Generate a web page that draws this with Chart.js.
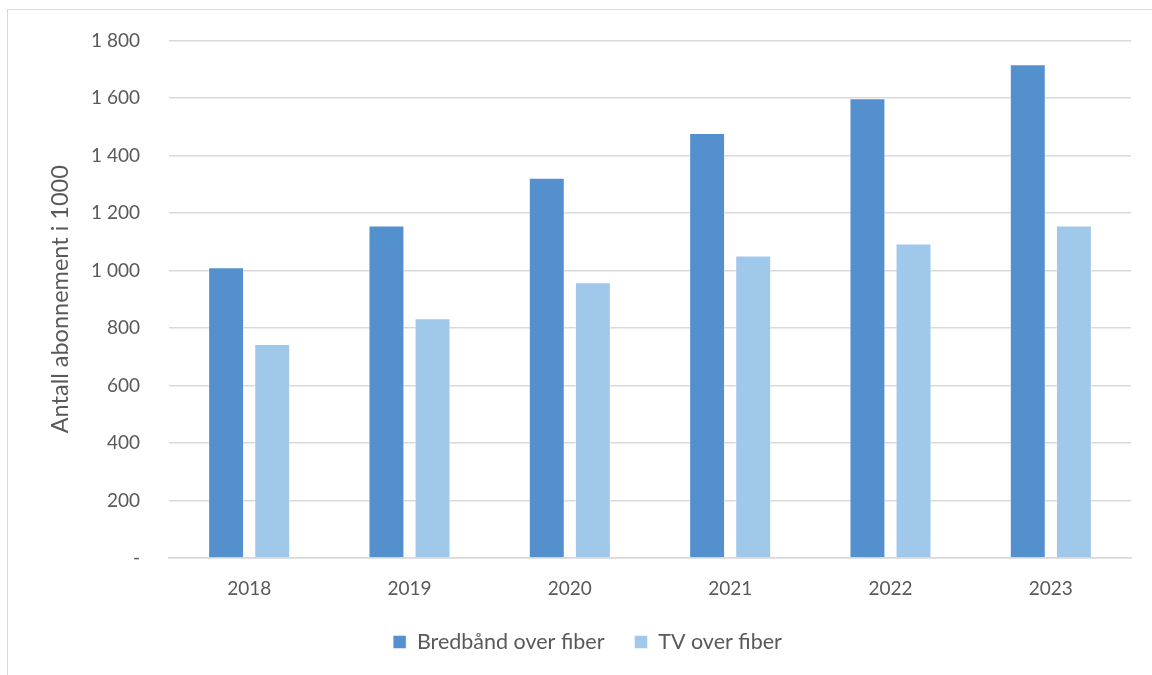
<!DOCTYPE html>
<html>
<head>
<meta charset="utf-8">
<script src="https://cdn.jsdelivr.net/npm/chart.js@4/dist/chart.umd.min.js"></script>
<style>
    html, body { margin: 0; padding: 0; background: #fff; overflow: hidden; }
    .frame { position: absolute; left: 7px; top: 9px; width: 1200px; height: 700px; border: 1px solid #d9d9d9; }
    .chart-wrapper { position: absolute; left: 0; top: 0; width: 1152px; height: 675px; }
</style>
</head>
<body>
<div class="frame"></div>
<div class="chart-wrapper"><canvas id="fiberChart"></canvas></div>
<script>
// Data
const years = ['2018', '2019', '2020', '2021', '2022', '2023'];
const bredbandValues = [1011, 1156, 1322, 1478, 1599, 1717];
const tvValues = [744, 834, 959, 1052, 1094, 1156];
const yTickLabels = ['-', '200', '400', '600', '800', '1 000', '1 200', '1 400', '1 600', '1 800'];

const fontFamily = 'Lato, "Noto Sans", sans-serif';
const textColor = '#595959';
const gridColor = '#d9d9d9';

// Nudge the legend so it's centred under the plot area like the original
const legendShift = {
    id: 'legendShift',
    afterLayout(chart) {
        if (chart.legend) {
            chart.legend.left += 22;
            chart.legend.right += 22;
        }
    }
};

const ctx = document.getElementById('fiberChart').getContext('2d');

new Chart(ctx, {
    type: 'bar',
    data: {
        labels: years,
        datasets: [{
            label: 'Bredbånd over fiber',
            data: bredbandValues,
            backgroundColor: '#5590ce',
            borderColor: 'rgba(255,255,255,0.5)',
            borderWidth: 1,
            barPercentage: 0.78,
            categoryPercentage: 0.575
        }, {
            label: 'TV over fiber',
            data: tvValues,
            backgroundColor: '#9fc8ea',
            borderColor: 'rgba(255,255,255,0.5)',
            borderWidth: 1,
            barPercentage: 0.78,
            categoryPercentage: 0.575
        }]
    },
    plugins: [legendShift],
    options: {
        responsive: true,
        maintainAspectRatio: false,
        animation: false,
        layout: { padding: { top: 38, right: 21, left: 0, bottom: 12.25 } },
        plugins: {
            legend: {
                position: 'bottom',
                labels: {
                    color: textColor,
                    font: { family: fontFamily, size: 21.5 },
                    boxWidth: 13,
                    boxHeight: 13,
                    padding: 30
                }
            },
            tooltip: { enabled: false }
        },
        scales: {
            y: {
                min: 0,
                max: 1800,
                afterFit: (scale) => { scale.width = 169; },
                ticks: {
                    stepSize: 200,
                    padding: 29,
                    color: textColor,
                    font: { family: fontFamily, size: 19 },
                    callback: (value) => yTickLabels[Math.round(value / 200)]
                },
                grid: { color: gridColor, lineWidth: 1.5, drawTicks: false },
                border: { display: false },
                title: {
                    display: true,
                    text: 'Antall abonnement i 1000',
                    color: textColor,
                    font: { family: fontFamily, size: 23.5 },
                    padding: { top: 46, bottom: 0 }
                }
            },
            x: {
                afterFit: (scale) => { scale.height = 43.25; },
                ticks: {
                    padding: 19.5,
                    color: textColor,
                    font: { family: fontFamily, size: 19 }
                },
                grid: { display: false, drawTicks: false },
                border: { display: true, color: gridColor, width: 1.5 }
            }
        }
    }
});
</script>
</body>
</html>
